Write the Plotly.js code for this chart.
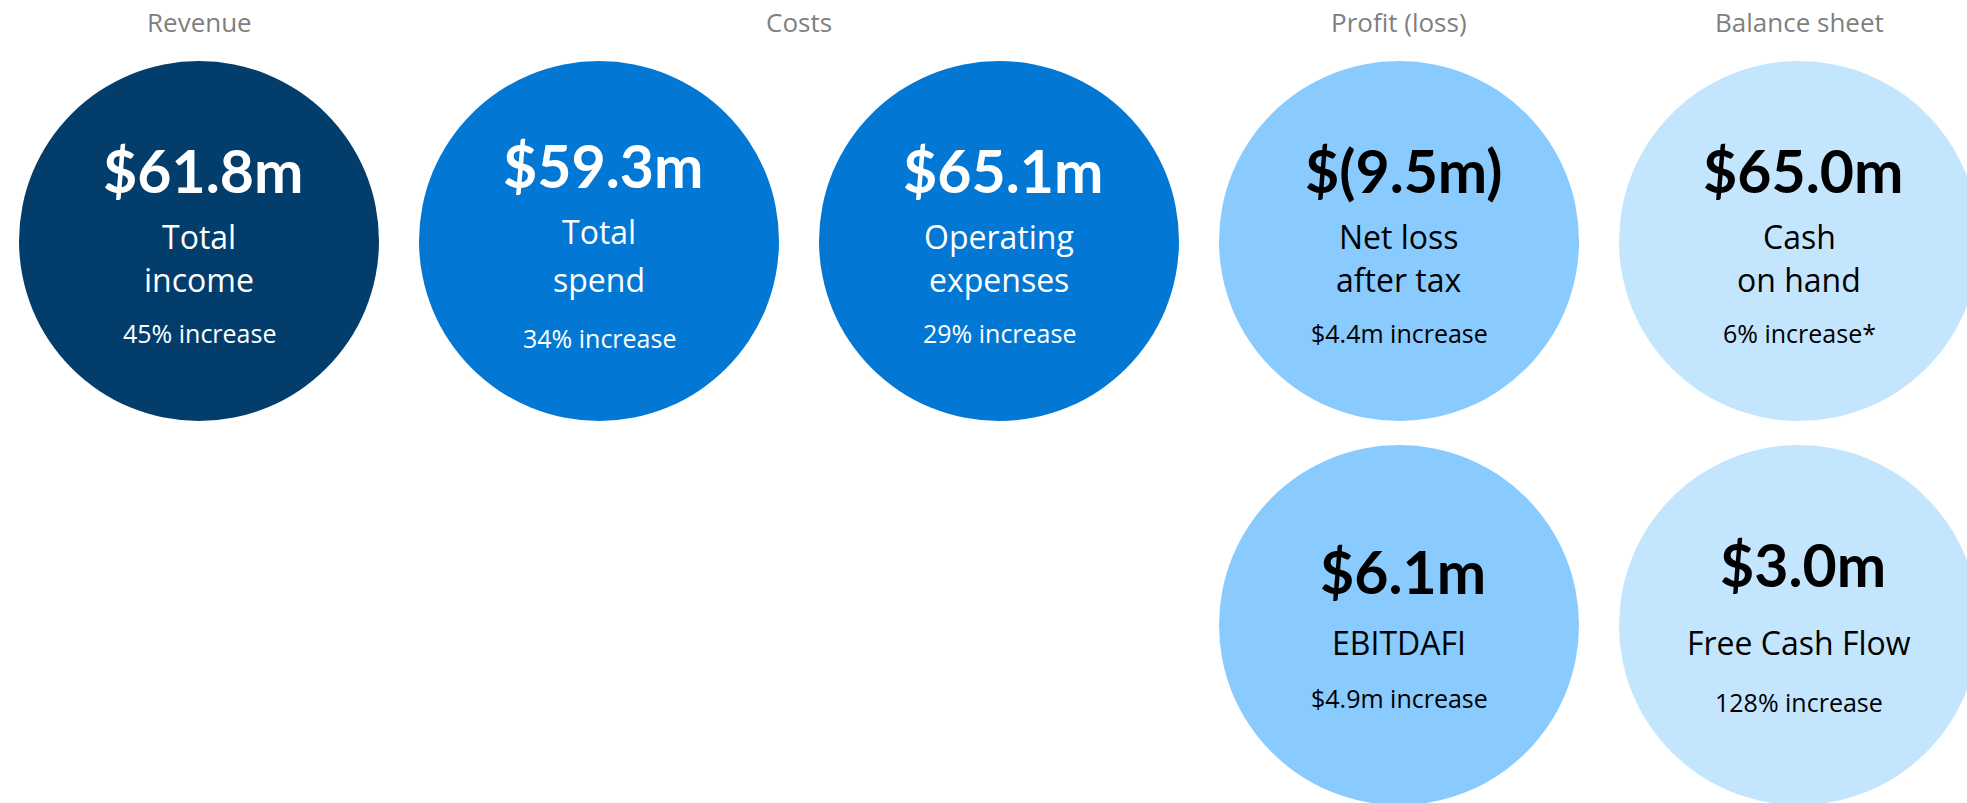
<!DOCTYPE html>
<html>
<head>
<meta charset="utf-8">
<script src="https://cdn.plot.ly/plotly-3.0.1.min.js"></script>
<style>
html,body{margin:0;padding:0;background:#fff;}
#chart{width:1967px;height:803px;}
</style>
</head>
<body>
<div id="chart"></div>
<script>
// ---- data ----
const groups = ["Revenue", "Costs", "Costs", "Profit (loss)", "Balance sheet", "Profit (loss)", "Balance sheet"];
const values = ["$61.8m", "$59.3m", "$65.1m", "$(9.5m)", "$65.0m", "$6.1m", "$3.0m"];
const labels = [["Total", "income"], ["Total", "spend"], ["Operating", "expenses"], ["Net loss", "after tax"], ["Cash", "on hand"], ["EBITDAFI"], ["Free Cash Flow"]];
const changes = ["45% increase", "34% increase", "29% increase", "$4.4m increase", "6% increase*", "$4.9m increase", "128% increase"];
const groupOrder = ["Revenue", "Costs", "Profit (loss)", "Balance sheet"];

// ---- layout helpers (slot/row per tile) ----
const slot = [0, 1, 2, 3, 4, 3, 4];
const row  = [0, 0, 0, 0, 0, 1, 1];
const tileColor = ["#023d6b", "#0277d4", "#0277d4", "#89cbfe", "#c4e5fe", "#89cbfe", "#c4e5fe"];
const textColor = ["#ffffff", "#ffffff", "#ffffff", "#000000", "#000000", "#000000", "#000000"];

const valueFont = "Lato, sans-serif";
const textFont = "'Open Sans', sans-serif";

const trace = {
  type: "scatter",
  mode: "markers",
  x: slot,
  y: row,
  marker: {size: 360, color: tileColor, line: {width: 0}, opacity: 1},
  hoverinfo: "skip",
  showlegend: false
};

const ann = [];
// group headers
groupOrder.forEach(g => {
  const idx = slot.filter((s, i) => groups[i] === g);
  const cx = idx.reduce((a, b) => a + b, 0) / idx.length;
  ann.push({x: cx, xref: "x", y: 1 - 22 / 803, yref: "paper", text: g, showarrow: false,
    xanchor: "center", yanchor: "middle", font: {family: textFont, size: 26, color: "#7f7f7f"}});
});

// tile texts
const nudge = [0, -5, 0, 0, 0, 0, 0];
values.forEach((v, i) => {
  const two = labels[i].length === 2;
  const off = two ? {v: -71, l: [-5, 38], c: 92} : {v: -54, l: [17], c: 73};
  const n = nudge[i];
  const base = {x: slot[i], xref: "x", y: row[i], yref: "y", showarrow: false,
    xanchor: "center", yanchor: "middle"};
  ann.push(Object.assign({}, base, {text: "<b>" + v + "</b>", yshift: -(off.v + n + (i === 6 ? -7 : 0)),
    xshift: 4,
    font: {family: valueFont, size: 59, color: textColor[i]}}));
  labels[i].forEach((t, k) => {
    const extra = (i === 1 && k === 1) ? 5 : 0;
    ann.push(Object.assign({}, base, {text: t, yshift: -(off.l[k] + n + extra),
      font: {family: textFont, size: 32, color: textColor[i]}}));
  });
  ann.push(Object.assign({}, base, {text: changes[i], yshift: -(off.c + (i === 1 ? 5 : 0) + (i === 6 ? 4 : 0)),
    font: {family: textFont, size: 25, color: textColor[i]}}));
});

const layout = {
  width: 1967, height: 803,
  margin: {l: 0, r: 0, t: 0, b: 0, pad: 0},
  paper_bgcolor: "#ffffff", plot_bgcolor: "#ffffff",
  xaxis: {range: [-0.4975, 4.42], visible: false, fixedrange: true},
  yaxis: {range: [1.4635, -0.6276], visible: false, fixedrange: true},
  annotations: ann,
  showlegend: false
};

Plotly.newPlot("chart", [trace], layout, {displayModeBar: false, staticPlot: true});
</script>
</body>
</html>
